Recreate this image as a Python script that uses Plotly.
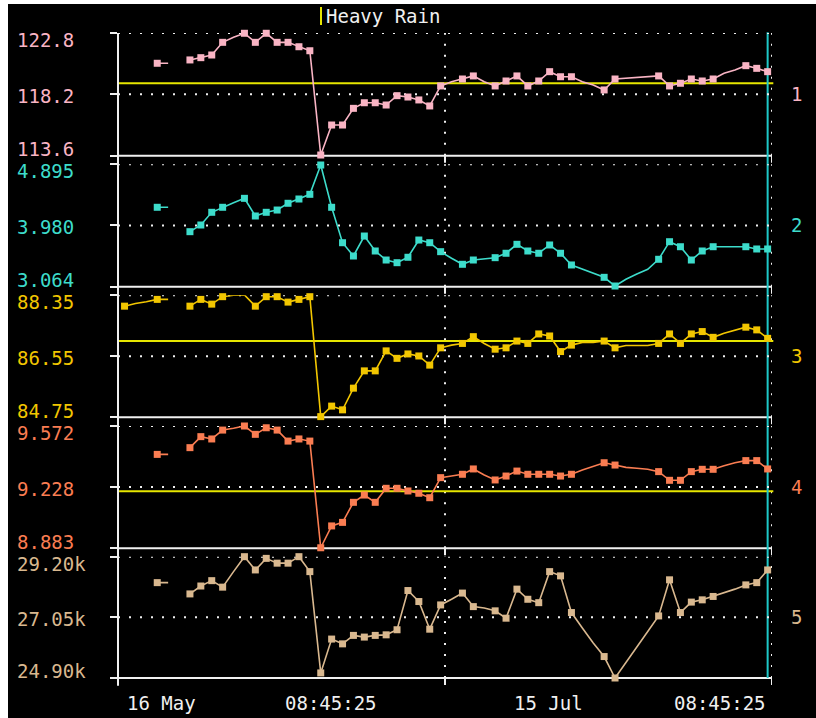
import plotly.graph_objects as go

# ---------------- data ----------------
# sample time in days after 16 May 08:45:25 (one sample per day)
DAYS = [0.6, 1.6, 2.6, 3.6, 4.6, 5.6, 6.6, 7.6, 8.6, 9.6,
        10.6, 11.6, 12.6, 13.6, 14.6, 15.6, 16.6, 17.6, 18.6, 19.6,
        20.6, 21.6, 22.6, 23.6, 24.6, 25.6, 26.6, 27.6, 28.6, 29.6,
        30.6, 31.6, 32.6, 33.6, 34.6, 35.6, 36.6, 37.6, 38.6, 39.6,
        40.6, 41.6, 42.6, 43.6, 44.6, 45.6, 46.6, 47.6, 48.6, 49.6,
        50.6, 51.6, 52.6, 53.6, 54.6, 55.6, 56.6, 57.6, 58.6, 59.6]

# samples drawn with a marker
MARKED = [0, 3, 6, 7, 8, 9, 11, 12, 13, 14, 15, 16, 17, 18, 19, 20, 21, 22, 23, 24,
          25, 26, 27, 28, 29, 31, 32, 34, 35, 36, 37, 38, 39, 40, 41, 44, 45,
          49, 50, 51, 52, 53, 54, 57, 58, 59]

N = None
S1 = [N, N, N, 120.53, 120.53, N, 120.78, 120.95, 121.15, 122.10,
      122.48, 122.78, 122.10, 122.78, 122.10, 122.10, 121.77, 121.47, 113.65, 115.90,
      115.90, 117.15, 117.57, 117.57, 117.40, 118.10, 118.00, 117.78, 117.33, 118.83,
      119.15, 119.35, 119.58, 119.15, 118.83, 119.20, 119.58, 118.83, 119.20, 119.90,
      119.52, 119.52, 119.15, 118.90, 118.53, 119.35, 119.40, 119.48, 119.52, 119.58,
      118.83, 119.03, 119.35, 119.20, 119.35, 119.78, 120.03, 120.35, 120.15, 119.90]

S2 = [N, N, N, 4.252, 4.252, N, 3.887, 3.987, 4.177, 4.252,
      4.320, 4.386, 4.122, 4.177, 4.211, 4.312, 4.376, 4.446, 4.885, 4.252,
      3.722, 3.523, 3.822, 3.598, 3.463, 3.423, 3.504, 3.762, 3.722, 3.588,
      3.489, 3.399, 3.463, 3.478, 3.498, 3.564, 3.698, 3.598, 3.564, 3.688,
      3.564, 3.389, 3.329, 3.273, 3.204, 3.074, 3.175, 3.254, 3.324, 3.474,
      3.737, 3.662, 3.463, 3.598, 3.662, 3.662, 3.662, 3.662, 3.628, 3.628]

S3 = [88.03, 88.11, 88.16, 88.23, 88.23, N, 88.03, 88.23, 88.09, 88.31,
      88.35, 88.36, 88.03, 88.31, 88.31, 88.15, 88.23, 88.31, 84.77, 85.08,
      84.97, 85.61, 86.12, 86.12, 86.71, 86.49, 86.62, 86.56, 86.29, 86.80,
      86.88, 86.93, 87.13, 86.93, 86.76, 86.80, 87.00, 86.93, 87.21, 87.15,
      86.69, 86.88, 86.96, 86.96, 87.00, 86.80, 86.87, 86.87, 86.87, 86.93,
      87.21, 86.93, 87.21, 87.28, 87.11, 87.23, 87.33, 87.41, 87.33, 87.08]

S4 = [N, N, N, 9.412, 9.412, N, 9.450, 9.512, 9.499, 9.549,
      9.559, 9.572, 9.525, 9.562, 9.549, 9.487, 9.499, 9.487, 8.886, 9.009,
      9.029, 9.142, 9.183, 9.142, 9.221, 9.221, 9.206, 9.193, 9.168, 9.281,
      9.290, 9.300, 9.330, 9.296, 9.268, 9.290, 9.318, 9.300, 9.300, 9.300,
      9.290, 9.300, 9.324, 9.343, 9.365, 9.352, 9.339, 9.334, 9.328, 9.315,
      9.266, 9.266, 9.315, 9.328, 9.328, 9.348, 9.365, 9.377, 9.377, 9.330]

S5 = [N, N, N, 28280, 28280, N, 27880, 28160, 28350, 28120,
      28670, 29200, 28730, 29140, 28970, 28970, 29200, 28670, 25080, 26280,
      26110, 26410, 26350, 26410, 26430, 26610, 28000, 27610, 26630, 27490,
      27690, 27910, 27430, 27380, 27280, 27020, 28050, 27690, 27570, 28670,
      28520, 27220, 26670, 26140, 25660, 24900, 25450, 26020, 26550, 27100,
      28380, 27220, 27590, 27670, 27790, 27910, 28050, 28200, 28280, 28730]

SERIES = [S1, S2, S3, S4, S5]
SERIES_NAMES = ["1", "2", "3", "4", "5"]
TICK_VALS = [[113.6, 118.2, 122.8], [3.064, 3.980, 4.895], [84.75, 86.55, 88.35],
             [8.883, 9.228, 9.572], [24900, 27050, 29200]]
TICK_TEXT = [["113.6", "118.2", "122.8"], ["3.064", "3.980", "4.895"],
             ["84.75", "86.55", "88.35"], ["8.883", "9.228", "9.572"],
             ["24.90k", "27.05k", "29.20k"]]
# threshold ("Heavy Rain") levels, per panel (None = not shown)
THRESH = [119.03, None, 87.0, 9.204, None]
X_RANGE = [0, 60]
X_GRID = [30, 60]
X_LABELS = ["16 May", "08:45:25", "15 Jul", "08:45:25"]
LEGEND_TEXT = "Heavy Rain"

# ---------------- style ----------------
COLORS = ["#F9B4C4", "#3DDCCB", "#F2C600", "#FA7D52", "#D9B88F"]
WHITE = "#F0F0F0"
YELLOW = "#E6E600"
CYAN_LINE = "#1EC8C8"
FONT = "DejaVu Sans Mono"
FS = 19

W, H = 808, 714
ML, MR, MT, MB = 110, 44, 29, 40
PW, PH = W - ML - MR, H - MT - MB
DOMAINS = [[0.8098, 1.0], [0.6067, 0.7964], [0.4042, 0.5933], [0.2011, 0.3907], [0.0, 0.1881]]

fig = go.Figure()
shapes = []
annotations = []

for i, vals in enumerate(SERIES):
    ya = "y" if i == 0 else f"y{i+1}"
    col = COLORS[i]
    fig.add_trace(go.Scatter(x=DAYS, y=vals, mode="lines", yaxis=ya, xaxis="x",
                             line=dict(color=col, width=1.6), connectgaps=False,
                             showlegend=False, hoverinfo="skip"))
    mx = [DAYS[k] for k in MARKED if vals[k] is not None]
    my = [vals[k] for k in MARKED if vals[k] is not None]
    fig.add_trace(go.Scatter(x=mx, y=my, mode="markers", yaxis=ya, xaxis="x",
                             marker=dict(symbol="square", size=7, color=col, line=dict(width=0)),
                             cliponaxis=False, showlegend=False))
    lo, mid, hi = TICK_VALS[i]
    fig.layout[("yaxis" if i == 0 else f"yaxis{i+1}")] = dict(
        domain=DOMAINS[i], range=[lo, hi], anchor="x", tickvals=TICK_VALS[i],
        ticks="outside", ticklen=7, tickwidth=2, tickcolor=WHITE,
        showticklabels=False, showgrid=False, zeroline=False, showline=False,
        fixedrange=True)
    yref = ya
    dref = f"{ya} domain"
    # dotted horizontal grid at mid and top
    for v in (mid, hi):
        shapes.append(dict(type="line", xref="x", yref=yref, x0=X_RANGE[0], x1=X_RANGE[1],
                           y0=v, y1=v, layer="below",
                           line=dict(color=WHITE, width=2, dash="2px,9px")))
    # dotted vertical grid
    for xv in X_GRID:
        shapes.append(dict(type="line", xref="x", yref=dref, x0=xv, x1=xv, y0=0, y1=1,
                           layer="below", line=dict(color=WHITE, width=2, dash="2px,9px")))
    # solid bottom boundary
    shapes.append(dict(type="line", xref="x", yref=dref, x0=X_RANGE[0], x1=X_RANGE[1],
                       y0=0, y1=0, layer="below", line=dict(color=WHITE, width=2)))
    # x ticks hanging below panel
    ph = (DOMAINS[i][1] - DOMAINS[i][0]) * PH
    for xv in X_GRID:
        shapes.append(dict(type="line", xref="x", yref=dref, x0=xv, x1=xv, y0=0, y1=-7 / ph,
                           layer="below", line=dict(color=WHITE, width=2)))
    # threshold line
    if THRESH[i] is not None:
        shapes.append(dict(type="line", xref="paper", yref=yref, x0=0, x1=1.002,
                           y0=THRESH[i], y1=THRESH[i], layer="below",
                           line=dict(color=YELLOW, width=2)))
    # tick labels (left-aligned)
    for v, t, shift in zip(TICK_VALS[i], TICK_TEXT[i], [6.5, -1.5, -7]):
        annotations.append(dict(text=t, xref="paper", yref=yref, x=(16 - 118) / PW, y=v,
                                xanchor="left", yanchor="middle", showarrow=False,
                                font=dict(family=FONT, size=FS, color=col),
                                borderpad=0, yshift=shift))
    # panel name on right
    annotations.append(dict(text=SERIES_NAMES[i], xref="paper", yref=yref, x=(796 - 118) / PW,
                            y=mid, xanchor="center", yanchor="middle", showarrow=False,
                            font=dict(family=FONT, size=FS, color=col)))

# left axis line (full height)
shapes.append(dict(type="line", xref="paper", yref="paper", x0=0, x1=0, y0=-7.7 / PH, y1=1,
                   layer="below", line=dict(color=WHITE, width=2)))
# current time marker (last sample)
shapes.append(dict(type="line", xref="x", yref="paper", x0=DAYS[-1], x1=DAYS[-1], y0=0, y1=1.001,
                   layer="below", line=dict(color=CYAN_LINE, width=2)))
# legend swatch
shapes.append(dict(type="line", xref="paper", yref="paper", x0=(321 - 118) / PW, x1=(321 - 118) / PW,
                   y0=(678 - 25) / PH, y1=(678 - 7) / PH, line=dict(color=YELLOW, width=2)))
annotations.append(dict(text=LEGEND_TEXT, xref="paper", yref="paper", x=(324 - 118) / PW,
                        y=(678 - 16) / PH, xanchor="left", yanchor="middle", showarrow=False,
                        font=dict(family=FONT, size=FS, color=WHITE)))

# x labels
xl_pos = [(161, "center"), (331, "center"), (548, "center"), (720, "center")]
for t, (px, anc) in zip(X_LABELS, xl_pos):
    annotations.append(dict(text=t, xref="paper", yref="paper", x=(px - 118) / PW,
                            y=(678 - 703) / PH, xanchor=anc, yanchor="middle", showarrow=False,
                            font=dict(family=FONT, size=FS, color=WHITE)))

fig.update_layout(
    width=W, height=H,
    margin=dict(l=ML, r=MR, t=MT, b=MB, pad=0),
    paper_bgcolor="black", plot_bgcolor="rgba(0,0,0,0)",
    xaxis=dict(range=X_RANGE, anchor="y5", showticklabels=False, ticks="", showgrid=False,
               zeroline=False, showline=False, fixedrange=True),
    shapes=shapes, annotations=annotations,
    font=dict(family=FONT, size=FS, color=WHITE),
    showlegend=False,
)

fig.write_html("out.html",
               post_script="document.body.style.margin='4px 0 0 8px';document.body.style.overflow='hidden';")
